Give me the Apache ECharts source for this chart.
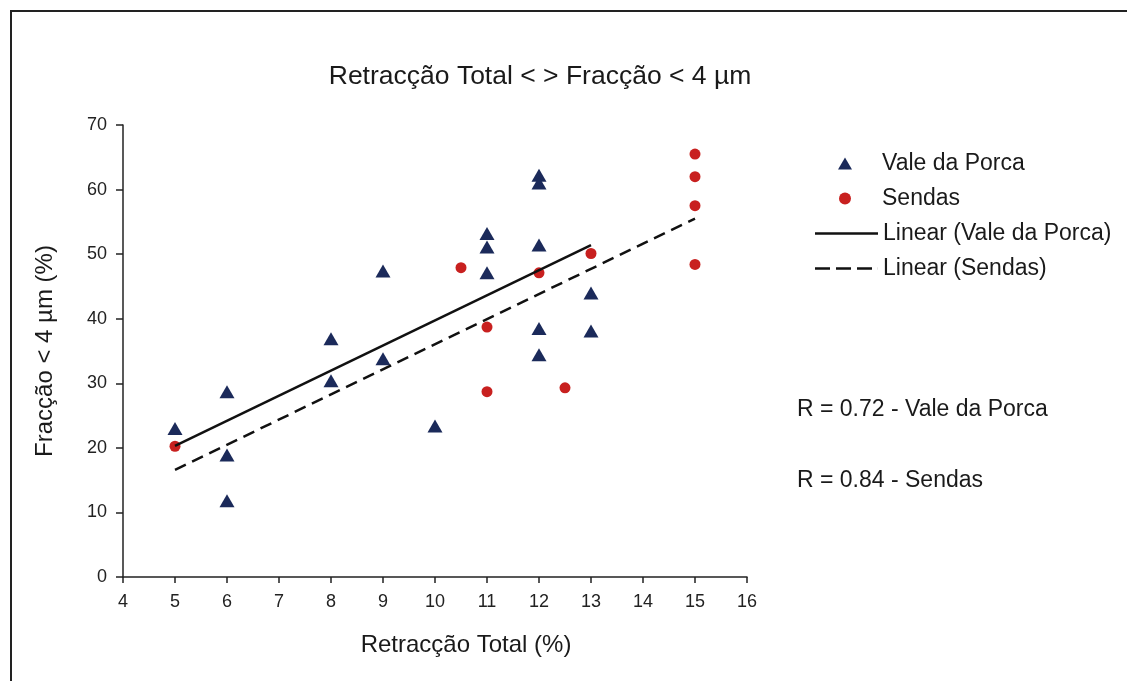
<!DOCTYPE html>
<html>
<head>
<meta charset="utf-8">
<script src="https://cdn.jsdelivr.net/npm/echarts@6/dist/echarts.min.js"></script>
<style>
html,body{margin:0;padding:0;background:#fff;}
#c{width:1127px;height:681px;}
</style>
</head>
<body>
<div id="c"></div>
<script>
// Data
const valeX = [5, 6, 6, 6, 8, 8, 9, 9, 10, 11, 11, 11, 12, 12, 12, 12, 12, 13, 13];
const valeY = [23.0, 28.7, 18.9, 11.8, 36.9, 30.4, 47.4, 33.8, 23.4, 53.2, 51.1, 47.1, 62.2, 61.0, 51.4, 38.5, 34.4, 44.0, 38.1];
const sendasX = [5, 10.5, 11, 11, 12, 12.5, 13, 15, 15, 15, 15];
const sendasY = [20.25, 47.9, 38.7, 28.7, 47.1, 29.3, 50.1, 65.5, 62.0, 57.5, 48.4];
const trendValeX = [5, 13];
const trendValeY = [20.3, 51.4];
const trendSendasX = [5, 15];
const trendSendasY = [16.6, 55.5];
const xTicks = [4, 16, 1];
const yTicks = [0, 70, 10];

const zip = (a, b) => a.map((v, i) => [v, b[i]]);
const FONT = 'Liberation Sans, Arial, sans-serif';
const TXT = '#1a1a1a';

const chart = echarts.init(document.getElementById('c'), null, {renderer: 'canvas'});
chart.setOption({
  backgroundColor: '#ffffff',
  animation: false,
  title: [
    {text: 'Retracção Total < > Fracção < 4 µm', left: 535, top: 58, textAlign: 'center',
     textStyle: {fontFamily: FONT, fontSize: 26.5, fontWeight: 'normal', color: TXT}},
    {text: 'R = 0.72 - Vale da Porca', left: 792, top: 393,
     textStyle: {fontFamily: FONT, fontSize: 23, fontWeight: 'normal', color: TXT}},
    {text: 'R = 0.84 - Sendas', left: 792, top: 464,
     textStyle: {fontFamily: FONT, fontSize: 23, fontWeight: 'normal', color: TXT}}
  ],
  graphic: [{
    type: 'polyline', silent: true,
    shape: {points: [[11, 681], [11, 11], [1127, 11]]},
    style: {stroke: '#222', lineWidth: 2, fill: null}
  }],
  legend: [
    {
      orient: 'vertical', left: 833, top: 147, itemGap: 12,
      itemWidth: 14, itemHeight: 12,
      data: [{name: 'Vale da Porca', icon: 'triangle'}, {name: 'Sendas', icon: 'circle'}],
      textStyle: {fontFamily: FONT, fontSize: 23, color: TXT, padding: [0, 0, 0, 25]}
    },
    {
      orient: 'vertical', left: 810, top: 217, itemGap: 12,
      itemWidth: 63, itemHeight: 2.5,
      itemStyle: {borderWidth: 0},
      data: [
        {name: 'Linear (Vale da Porca)', icon: 'path://M0,0H63V2.5H0Z'},
        {name: 'Linear (Sendas)', icon: 'path://M0,0H15V2.5H0Z M21,0H36V2.5H21Z M42,0H57V2.5H42Z M62.9,0H63V2.5H62.9Z'}
      ],
      textStyle: {fontFamily: FONT, fontSize: 23, color: TXT}
    }
  ],
  grid: {left: 123, right: 380, top: 125, bottom: 104, containLabel: false},
  xAxis: {
    type: 'value', min: xTicks[0], max: xTicks[1], interval: xTicks[2],
    name: 'Retracção Total (%)', nameLocation: 'middle', nameGap: 56,
    nameTextStyle: {fontFamily: FONT, fontSize: 24, color: TXT, padding: [0, 0, 0, 62]},
    axisLine: {show: true, lineStyle: {color: '#222', width: 1.5}},
    axisTick: {show: true, length: 6, lineStyle: {color: '#222', width: 1.5}},
    axisLabel: {fontFamily: FONT, fontSize: 18, color: '#222', margin: 16},
    splitLine: {show: false}
  },
  yAxis: {
    type: 'value', min: yTicks[0], max: yTicks[1], interval: yTicks[2],
    name: 'Fracção < 4 µm (%)', nameLocation: 'middle', nameGap: 66, nameRotate: 90,
    nameTextStyle: {fontFamily: FONT, fontSize: 24, color: TXT},
    axisLine: {show: true, lineStyle: {color: '#222', width: 1.5}},
    axisTick: {show: true, length: 7, lineStyle: {color: '#222', width: 1.5}},
    axisLabel: {fontFamily: FONT, fontSize: 18, color: '#222', margin: 16},
    splitLine: {show: false}
  },
  series: [
    {name: 'Vale da Porca', type: 'scatter', symbol: 'triangle', symbolSize: [15, 13],
     itemStyle: {color: '#1b2a5a', opacity: 1}, data: zip(valeX, valeY)},
    {name: 'Sendas', type: 'scatter', symbol: 'circle', symbolSize: 11,
     itemStyle: {color: '#c8201f', opacity: 1}, data: zip(sendasX, sendasY)},
    {name: 'Linear (Vale da Porca)', type: 'line', symbol: 'none', z: 5,
     lineStyle: {color: '#111', width: 2.5, type: 'solid'}, itemStyle: {color: '#111'},
     data: zip(trendValeX, trendValeY)},
    {name: 'Linear (Sendas)', type: 'line', symbol: 'none', z: 5,
     lineStyle: {color: '#111', width: 2.5, type: [12, 7]}, itemStyle: {color: '#111'},
     data: zip(trendSendasX, trendSendasY)}
  ]
});
</script>
</body>
</html>
